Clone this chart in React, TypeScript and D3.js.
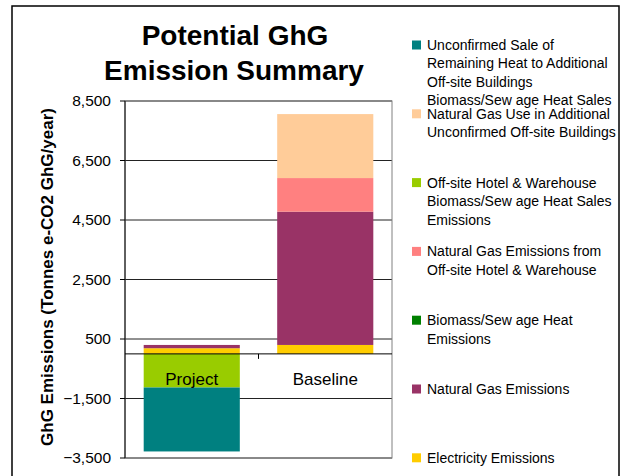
import React from 'react';
import * as d3 from 'd3';

const width = 624;
const height = 476;
const font = "'Liberation Sans', Arial, sans-serif";

// categories on the x axis
const categories = ['Project', 'Baseline'];

// series in stacking order (bottom first)
const seriesNames = [
    'Electricity Emissions',
    'Natural Gas Emissions',
    'Biomass/Sew age Heat Emissions',
    'Natural Gas Emissions from Off-site Hotel & Warehouse',
    'Off-site Hotel & Warehouse Biomass/Sew age Heat Sales Emissions',
    'Natural Gas Use in Additional Unconfirmed Off-site Buildings',
    'Unconfirmed Sale of Remaining Heat to Additional Off-site Buildings Biomass/Sew age Heat Sales',
];
const seriesColors = ['#FFCC00', '#993366', '#008000', '#FF8080', '#99CC00', '#FFCC99', '#008080'];

// values per series: [Project, Baseline] in tonnes e-CO2/year
const electricity = [190, 300];
const naturalGas = [110, 4480];
const biomassHeat = [0, 0];
const ngHotel = [0, 1130];
const hotelBiomassSales = [-1130, 0];
const ngAdditional = [0, 2150];
const unconfirmedSale = [-2150, 0];

// legend text lines, top to bottom
const legendLines = [
    ['Unconfirmed Sale of', 'Remaining Heat to Additional', 'Off-site Buildings', 'Biomass/Sew age Heat Sales'],
    ['Natural Gas Use in Additional', 'Unconfirmed Off-site Buildings'],
    ['Off-site Hotel & Warehouse', 'Biomass/Sew age Heat Sales', 'Emissions'],
    ['Natural Gas Emissions from', 'Off-site Hotel & Warehouse'],
    ['Biomass/Sew age Heat', 'Emissions'],
    ['Natural Gas Emissions'],
    ['Electricity Emissions'],
];

const yTicks = [-3500, -1500, 500, 2500, 4500, 6500, 8500];

const seriesValues = [electricity, naturalGas, biomassHeat, ngHotel, hotelBiomassSales, ngAdditional, unconfirmedSale];

const rows = categories.map((c, i) => {
    const row: any = { category: c };
    seriesNames.forEach((s, j) => { row[s] = seriesValues[j][i]; });
    return row;
});

const plot = { left: 125, right: 392, top: 101, bottom: 458 };

const App = () => {
    const x = d3.scaleBand()
        .domain(categories)
        .range([plot.left, plot.right])
        .paddingInner(0.28)
        .paddingOuter(0.14);
    const y = d3.scaleLinear()
        .domain([-3500, 8500])
        .range([plot.bottom, plot.top]);

    const stacked = d3.stack<any>()
        .keys(seriesNames)
        .offset(d3.stackOffsetDiverging)(rows);

    const fmt = d3.format(',');
    const legendColors = seriesColors.slice().reverse();
    const catTick = (x('Project')! + x.bandwidth() + x('Baseline')!) / 2;

    return (
        <svg width={width} height={height} style={{ position: 'absolute', left: 0, top: 0 }} fontFamily={font}>
            <rect x={0} y={0} width={width} height={height} fill="#fff" />
            <rect x={12} y={6} width={607} height={490} fill="none" stroke="#000" strokeWidth={1.5} />

            <text x={234} textAnchor="middle" fontWeight="bold" fontSize={28}>
                <tspan x={235} y={45}>Potential GhG</tspan>
                <tspan x={234} y={80}>Emission Summary</tspan>
            </text>

            {/* grid lines */}
            {yTicks.map(t => (
                <line key={t} x1={plot.left} x2={plot.right} y1={y(t)} y2={y(t)} stroke="#222" strokeWidth={1} />
            ))}
            <rect x={plot.left} y={plot.top} width={plot.right - plot.left} height={plot.bottom - plot.top}
                fill="none" stroke="#808080" strokeWidth={1} />

            {/* bars */}
            {stacked.map((s, i) => (
                <g key={s.key} fill={seriesColors[i]}>
                    {s.map((d: any) => {
                        const y0 = y(Math.max(d[0], d[1]));
                        const y1 = y(Math.min(d[0], d[1]));
                        if (y1 - y0 < 0.01) return null;
                        return <rect key={d.data.category} x={x(d.data.category)} y={y0}
                            width={x.bandwidth()} height={y1 - y0} />;
                    })}
                </g>
            ))}

            {/* y axis */}
            <line x1={plot.left} x2={plot.left} y1={plot.top} y2={plot.bottom} stroke="#000" />
            {yTicks.map(t => (
                <g key={t}>
                    <line x1={plot.left - 5} x2={plot.left} y1={y(t)} y2={y(t)} stroke="#000" />
                    <text x={111} y={y(t)} dy="0.35em" textAnchor="end" fontSize={15.5}>{fmt(t)}</text>
                </g>
            ))}
            <text transform="translate(47,277) rotate(-90)" textAnchor="middle" dy="0.35em"
                fontWeight="bold" fontSize={17}>GhG Emissions (Tonnes e-CO2 GhG/year)</text>

            {/* category axis at zero */}
            <line x1={plot.left} x2={plot.right} y1={y(0)} y2={y(0)} stroke="#000" />
            <line x1={catTick} x2={catTick} y1={y(0)} y2={y(0) + 5} stroke="#000" />
            {categories.map(c => (
                <text key={c} x={x(c)! + x.bandwidth() / 2} y={379} dy="0.35em" textAnchor="middle" fontSize={17}>{c}</text>
            ))}

            {/* legend */}
            {legendLines.map((lines, i) => {
                const cy = 45 + i * 68.8;
                return (
                    <g key={i}>
                        <rect x={412} y={cy - 4.5} width={9} height={9} fill={legendColors[i]} />
                        {lines.map((l, k) => (
                            <text key={k} x={427} y={cy + k * 18.5} dy="0.35em" fontSize={14}>{l}</text>
                        ))}
                    </g>
                );
            })}
        </svg>
    );
};

export default App;
